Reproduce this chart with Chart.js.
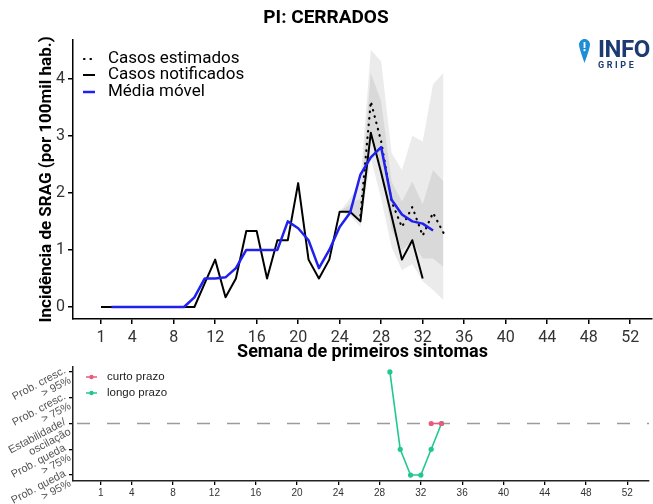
<!DOCTYPE html>
<html lang="pt-BR">
<head>
<meta charset="utf-8">
<title>PI: CERRADOS</title>
<script src="https://cdn.jsdelivr.net/npm/chart.js@4.4.1/dist/chart.umd.min.js"></script>
<style>
  html, body { margin: 0; padding: 0; background: #fff; }
  #wrap { position: relative; width: 653px; height: 504px; overflow: hidden; }
  #incChart { position: absolute; left: 0; top: 0; }
  #trendChart { position: absolute; left: 0; top: 358px; }
  .logo { position: absolute; left: 579px; top: 39px; display: flex; align-items: flex-start; gap: 8px; font-family: Roboto, sans-serif; color: #1d3b72; }
  .logo .info { font-size: 24px; font-weight: 700; line-height: 20px; letter-spacing: -0.5px; }
  .logo .gripe { font-size: 9px; font-weight: 700; letter-spacing: 2.6px; line-height: 10px; margin-top: 1px; }
</style>
</head>
<body>
<div id="wrap">
  <canvas id="incChart" width="653" height="364"></canvas>
  <canvas id="trendChart" width="653" height="146"></canvas>
  <div class="logo">
    <svg width="11" height="24" viewBox="0 0 11 24">
      <path d="M5.5 0C2.5 0 0 2.5 0 5.6C0 9.5 5.5 24 5.5 24S11 9.5 11 5.6C11 2.5 8.5 0 5.5 0Z" fill="#1e8fd6"/>
      <rect x="4.6" y="3" width="1.8" height="6" fill="#fff"/>
      <circle cx="5.5" cy="11.2" r="1.1" fill="#fff"/>
    </svg>
    <div><div class="info">INFO</div><div class="gripe">GRIPE</div></div>
  </div>
</div>
<script>
// semanas epidemiologicas
const xTicks = [1, 4, 8, 12, 16, 20, 24, 28, 32, 36, 40, 44, 48, 52];
const yTicks = [0, 1, 2, 3, 4];

const notifiedWeeks = [1, 2, 3, 4, 5, 6, 7, 8, 9, 10, 11, 12, 13, 14, 15, 16, 17, 18, 19, 20, 21, 22, 23, 24, 25, 26, 27, 28, 29, 30, 31, 32];
const notified = [0, 0, 0, 0, 0, 0, 0, 0, 0, 0, 0.42, 0.83, 0.17, 0.5, 1.33, 1.33, 0.5, 1.17, 1.17, 2.17, 0.83, 0.5, 0.83, 1.67, 1.67, 1.5, 3.05, 2.35, 1.6, 0.83, 1.17, 0.5];

const movingWeeks = [2, 3, 4, 5, 6, 7, 8, 9, 10, 11, 12, 13, 14, 15, 16, 17, 18, 19, 20, 21, 22, 23, 24, 25, 26, 27, 28, 29, 30, 31, 32, 33];
const movingAvg = [0, 0, 0, 0, 0, 0, 0, 0, 0.17, 0.5, 0.5, 0.52, 0.68, 1.0, 1.0, 1.0, 1.0, 1.5, 1.38, 1.17, 0.68, 1.0, 1.4, 1.65, 2.32, 2.62, 2.8, 1.88, 1.62, 1.5, 1.46, 1.34];

const estWeeks = [26, 27, 28, 29, 30, 31, 32, 33, 34];
const estimated = [1.6, 3.6, 2.9, 1.85, 1.4, 1.75, 1.25, 1.65, 1.3];

const bandWeeks = [24, 25, 26, 27, 28, 29, 30, 31, 32, 33, 34];
const outerLow = [1.67, 1.6, 1.4, 2.6, 1.9, 1.05, 0.65, 0.75, 0.45, 0.3, 0.12];
const outerHigh = [1.67, 1.9, 2.2, 4.5, 4.3, 2.7, 2.4, 3.0, 2.9, 3.9, 4.1];
const innerLow = [1.67, 1.65, 1.5, 3.0, 2.4, 1.35, 1.0, 1.15, 0.85, 0.85, 0.7];
const innerHigh = [1.67, 1.8, 1.9, 4.1, 3.6, 2.2, 1.85, 2.2, 1.8, 2.4, 2.2];

// tendencia
const trendLevels = [2, 1, 0, -1, -2];
const trendLabels = [["Prob. cresc.", "> 95%"], ["Prob. cresc.", "> 75%"], ["Estabilidade/", "oscilação"], ["Prob. queda", "> 75%"], ["Prob. queda", "> 95%"]];
const longWeeks = [29, 30, 31, 32, 33, 34];
const longTerm = [2, -1, -2, -2, -1, 0];
const shortWeeks = [33, 34];
const shortTerm = [0, 0];

const pts = (xs, ys) => xs.map((x, i) => ({ x, y: ys[i] }));

const incLegend = {
  id: "incLegend",
  afterDraw(chart) {
    const ctx = chart.ctx;
    const rows = [5, 4, 6].map((i) => chart.data.datasets[i]);
    const ys = [59, 75, 92];
    ctx.save();
    ctx.font = "17px Roboto";
    ctx.textBaseline = "middle";
    rows.forEach((ds, i) => {
      ctx.strokeStyle = ds.borderColor;
      ctx.lineWidth = ds.borderWidth;
      ctx.lineCap = ds.borderDash ? "round" : "butt";
      ctx.setLineDash(ds.borderDash || []);
      ctx.beginPath();
      ctx.moveTo(ds.borderDash ? 84 : 83, ys[i]);
      ctx.lineTo(95, ys[i]);
      ctx.stroke();
      ctx.setLineDash([]);
      ctx.fillStyle = "#000";
      ctx.fillText(ds.label, 108, ys[i]);
    });
    ctx.restore();
  }
};

new Chart(document.getElementById("incChart"), {
  type: "line",
  data: {
    datasets: [
      { label: "IC inf", data: pts(bandWeeks, outerLow), borderWidth: 0, pointRadius: 0, fill: false, order: 10 },
      { label: "IC sup", data: pts(bandWeeks, outerHigh), borderWidth: 0, pointRadius: 0, fill: 0, backgroundColor: "rgba(222,222,222,0.6)", order: 9 },
      { label: "IC50 inf", data: pts(bandWeeks, innerLow), borderWidth: 0, pointRadius: 0, fill: false, order: 8 },
      { label: "IC50 sup", data: pts(bandWeeks, innerHigh), borderWidth: 0, pointRadius: 0, fill: 2, backgroundColor: "rgba(190,190,190,0.4)", order: 7 },
      { label: "Casos notificados", data: pts(notifiedWeeks, notified), borderColor: "#000", borderWidth: 2, pointRadius: 0, borderJoinStyle: "round", order: 3 },
      { label: "Casos estimados", data: pts(estWeeks, estimated), borderColor: "#000", borderWidth: 2.2, borderDash: [0.5, 6], borderCapStyle: "round", pointRadius: 0, order: 2 },
      { label: "Média móvel", data: pts(movingWeeks, movingAvg), borderColor: "#2020f0", borderWidth: 2.5, pointRadius: 0, borderJoinStyle: "round", order: 1 }
    ]
  },
  options: {
    responsive: false,
    animation: false,
    events: [],
    layout: { padding: { left: 0, right: 1, top: 0, bottom: 0 } },
    plugins: {
      legend: { display: false },
      tooltip: { enabled: false },
      title: {
        display: true,
        text: "PI: CERRADOS",
        color: "#000",
        font: { family: "Roboto", size: 19, weight: "bold" },
        padding: { top: 7, bottom: 10 }
      }
    },
    scales: {
      x: {
        type: "linear",
        min: -1.7,
        max: 54.1,
        afterBuildTicks: (s) => { s.ticks = xTicks.map((v) => ({ value: v })); },
        afterFit: (s) => { s.height = 45; },
        ticks: { autoSkip: false, maxRotation: 0, padding: 4, color: "#333", font: { family: "Roboto", size: 16 }, callback: (v) => String(v) },
        grid: { drawOnChartArea: false, drawTicks: true, tickLength: 5, color: "#000", lineWidth: 1.5 },
        border: { display: true, color: "#000", width: 1.5 },
        title: { display: true, text: "Semana de primeiros sintomas", color: "#000", font: { family: "Roboto", size: 18, weight: "bold" }, padding: { top: 0, bottom: 1 } }
      },
      y: {
        type: "linear",
        min: -0.21,
        max: 4.68,
        afterBuildTicks: (s) => { s.ticks = yTicks.map((v) => ({ value: v })); },
        afterFit: (s) => { s.width = 73; },
        ticks: { padding: 3, color: "#333", font: { family: "Roboto", size: 16 }, callback: (v) => String(v) },
        grid: { drawOnChartArea: false, drawTicks: true, tickLength: 5, color: "#000", lineWidth: 1.5 },
        border: { display: true, color: "#000", width: 1.5 },
        title: { display: true, text: "Incidência de SRAG (por 100mil hab.)", color: "#000", font: { family: "Roboto", size: 17, weight: "bold" }, padding: { top: 37, bottom: 0 } }
      }
    }
  },
  plugins: [incLegend]
});

const trendDecor = {
  id: "trendDecor",
  beforeDatasetsDraw(chart) {
    const { ctx, chartArea, scales } = chart;
    const y0 = scales.y.getPixelForValue(0);
    ctx.save();
    ctx.strokeStyle = "#9a9a9a";
    ctx.lineWidth = 1.5;
    ctx.setLineDash([13, 17]);
    ctx.beginPath();
    ctx.moveTo(chartArea.left + 4, y0);
    ctx.lineTo(chartArea.right, y0);
    ctx.stroke();
    ctx.restore();
  },
  afterDraw(chart) {
    const { ctx, scales } = chart;
    ctx.save();
    ctx.font = "11px 'Liberation Sans'";
    ctx.fillStyle = "#555";
    ctx.textAlign = "right";
    ctx.textBaseline = "middle";
    trendLevels.forEach((lv, i) => {
      const y = scales.y.getPixelForValue(lv);
      ctx.save();
      ctx.translate(65, y - 2);
      ctx.rotate(-28 * Math.PI / 180);
      ctx.fillText(trendLabels[i][0], 0, 0);
      ctx.fillText(trendLabels[i][1], 0, 11);
      ctx.restore();
    });
    // legenda
    const rows = [chart.data.datasets[1], chart.data.datasets[0]];
    const ys = [19, 35];
    ctx.textAlign = "left";
    ctx.font = "11.5px 'Liberation Sans'";
    rows.forEach((ds, i) => {
      ctx.strokeStyle = ds.borderColor;
      ctx.fillStyle = ds.borderColor;
      ctx.lineWidth = 1.5;
      ctx.beginPath();
      ctx.moveTo(86, ys[i]);
      ctx.lineTo(97, ys[i]);
      ctx.stroke();
      ctx.beginPath();
      ctx.arc(91.5, ys[i], 2.2, 0, Math.PI * 2);
      ctx.fill();
      ctx.fillStyle = "#222";
      ctx.fillText(ds.label, 107, ys[i]);
    });
    ctx.restore();
  }
};

new Chart(document.getElementById("trendChart"), {
  type: "line",
  data: {
    datasets: [
      { label: "longo prazo", data: pts(longWeeks, longTerm), borderColor: "#1fc98e", backgroundColor: "#1fc98e", borderWidth: 1.6, pointRadius: 2.6, pointBorderWidth: 0, order: 2 },
      { label: "curto prazo", data: pts(shortWeeks, shortTerm), borderColor: "#ea5a7c", backgroundColor: "#ea5a7c", borderWidth: 1.6, pointRadius: 2.6, pointBorderWidth: 0, order: 1 }
    ]
  },
  options: {
    responsive: false,
    animation: false,
    events: [],
    layout: { padding: { left: 0, right: 1, top: 9, bottom: 0 } },
    plugins: { legend: { display: false }, tooltip: { enabled: false } },
    scales: {
      x: {
        type: "linear",
        min: -1.7,
        max: 54.1,
        afterBuildTicks: (s) => { s.ticks = xTicks.map((v) => ({ value: v })); },
        afterFit: (s) => { s.height = 23; },
        ticks: { autoSkip: false, maxRotation: 0, padding: 2, color: "#333", font: { family: "Liberation Sans", size: 10 }, callback: (v) => String(v) },
        grid: { drawOnChartArea: false, drawTicks: true, tickLength: 4, color: "#000", lineWidth: 1.3 },
        border: { display: true, color: "#222", width: 1.5 }
      },
      y: {
        type: "linear",
        min: -2.23,
        max: 2.19,
        afterBuildTicks: (s) => { s.ticks = trendLevels.map((v) => ({ value: v })); },
        afterFit: (s) => { s.width = 73; },
        ticks: { display: false },
        grid: { drawOnChartArea: false, drawTicks: true, tickLength: 4, color: "#000", lineWidth: 1.3 },
        border: { display: true, color: "#222", width: 1.5 }
      }
    }
  },
  plugins: [trendDecor]
});
</script>
</body>
</html>
